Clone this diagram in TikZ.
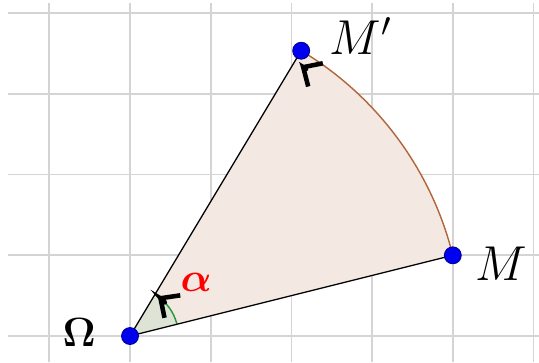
\documentclass[tikz,border=0pt]{standalone}
\usepackage{amsmath,bm}
\usetikzlibrary{arrows.meta}
\definecolor{gridc}{RGB}{212,212,212}
\definecolor{sectc}{RGB}{243,232,226}
\definecolor{angc}{RGB}{221,228,214}
\definecolor{arcc}{RGB}{178,102,60}
\definecolor{angarc}{RGB}{40,150,50}
\definecolor{ptc}{RGB}{0,0,240}
\tikzset{
  gridline/.style={draw=gridc, line width=0.6pt},
  side/.style={draw=black, line width=0.45pt},
  pt/.style={circle, fill=ptc, draw=ptc!60!black, line width=0.3pt, inner sep=0pt, minimum size=2.1mm},
  marker/.style={-{Straight Barb[length=1.8mm,width=3.4mm,line width=1.6pt]}, line width=1.6pt, black, line cap=round},
  lab/.style={inner sep=0pt}
}
\begin{document}
\begin{tikzpicture}
\useasboundingbox (-1.611,-0.322) rectangle (5.068,4.164);
% grid
\foreach \x in {-1,...,5} \draw[gridline] (\x,-0.322) -- (\x,4.126);
\foreach \y in {0,...,4} \draw[gridline] (-1.512,\y) -- (5.068,\y);
% points
\coordinate (O) at (0,0);
\coordinate (M) at (4,1);
\coordinate (Mp) at ({sqrt(17)*cos(59.036)},{sqrt(17)*sin(59.036)});
% sector
\fill[sectc] (O) -- (M) arc (14.036:59.036:{sqrt(17)}) -- cycle;
\fill[angc] (O) -- (14.036:0.6) arc (14.036:59.036:0.6) -- cycle;
\draw[angarc, line width=0.5pt] (14.036:0.6) arc (14.036:59.036:0.6);
\draw[arcc, line width=0.5pt] (M) arc (14.036:59.036:{sqrt(17)});
\draw[side] (O) -- (M);
\draw[side] (O) -- (Mp);
% arrow marks
\draw[marker] (44:0.6) arc (44:55:0.6);
\draw[marker] (56.6:{sqrt(17)-0.16}) arc (56.6:57.8:{sqrt(17)-0.16});
% dots
\node[pt] (nO) at (O) {};
\node[pt] (nM) at (M) {};
\node[pt] (nMp) at (Mp) {};
% labels
\node[lab, font=\fontsize{14}{16}\selectfont] (lO) at (-0.63,0.05) {$\bm{\Omega}$};
\node[lab, font=\fontsize{17}{20}\selectfont] (lM) at (4.6,0.9) {$M$};
\node[lab, font=\fontsize{17}{20}\selectfont] (lMp) at (2.86,3.72) {$M'$};
\node[lab, font=\fontsize{14}{16}\selectfont, text=red] (la) at (0.82,0.66) {$\bm{\alpha}$};
\end{tikzpicture}
\end{document}
